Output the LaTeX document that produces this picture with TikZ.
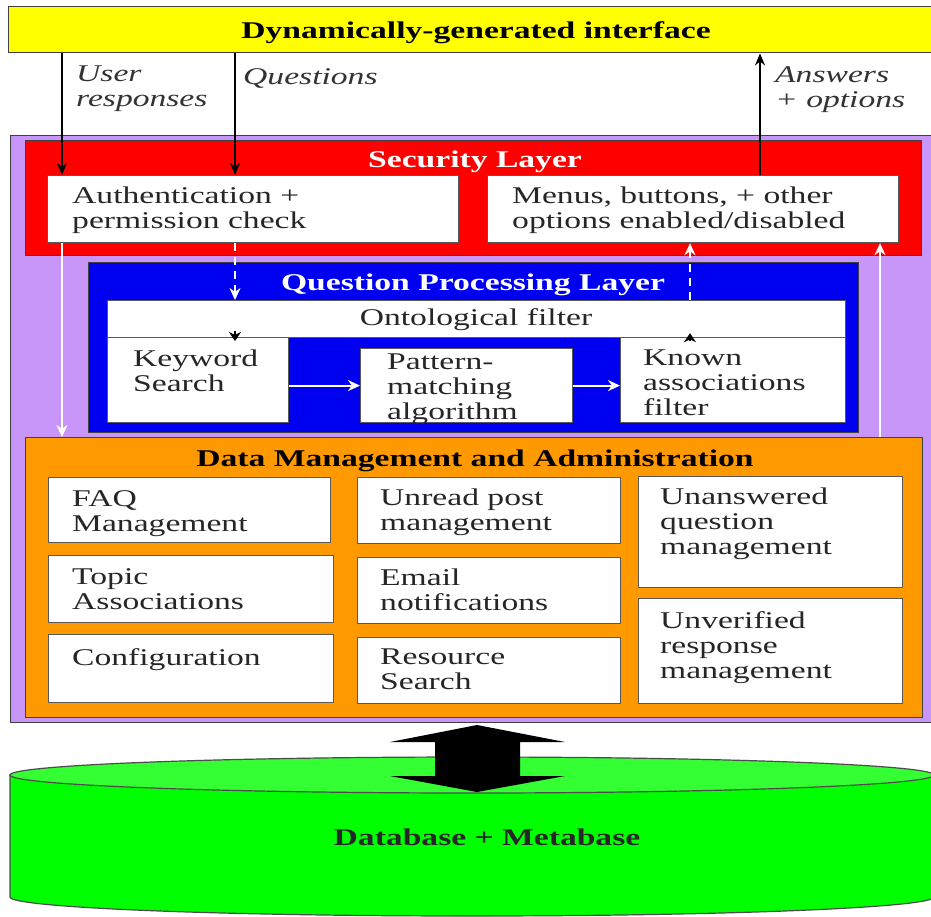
\documentclass[tikz,border=0pt]{standalone}
\usepackage{fontspec}
\setmainfont{Liberation Serif}[FakeStretch=1.4]
\usetikzlibrary{arrows.meta}
\newcommand\fs{\fontsize{24}{25}\selectfont}
\definecolor{ifyellow}{RGB}{255,255,0}
\definecolor{outpurple}{RGB}{200,150,248}
\definecolor{secred}{RGB}{255,0,0}
\definecolor{qblue}{RGB}{0,0,240}
\definecolor{dmorange}{RGB}{255,153,0}
\definecolor{dbgreen}{RGB}{0,255,0}
\definecolor{dbtop}{RGB}{51,255,51}
\tikzset{
  layer/.style={draw=black!75, line width=1.4pt, inner sep=0pt, anchor=north west},
  wbox/.style={draw=black!65, fill=white, line width=1.2pt, inner sep=0pt, anchor=north west},
  txt/.style={inner sep=0pt, anchor=north west, align=left, font=\fs, text=black!85},
  lbl/.style={inner sep=0pt, anchor=north west, align=left, font=\fs\itshape, text=black!80},
  ttl/.style={inner sep=0pt, font=\fs\bfseries},
  blk/.style={line width=2.2pt, -{Stealth[length=12pt,width=10pt]}},
  wht/.style={draw=white, line width=2.2pt, -{Stealth[length=12pt,width=11pt]}},
  whtd/.style={wht, dash pattern=on 8pt off 6pt}
}
\newcommand\mybox[6]{\node[#6, minimum width={#4pt-#2pt}, minimum height={#5pt-#3pt}] (#1) at (#2,#3) {};}
\begin{document}
\begin{tikzpicture}[x=1pt,y=-1pt]
\useasboundingbox (0,0) rectangle (931,916);
\fill[white] (0,0) rectangle (931,916);
% top interface
\mybox{iface}{8}{6}{945}{52}{layer, fill=ifyellow}
\node[ttl] (ifaceT) at (476,33) {Dynamically-generated interface};
% outer purple
\mybox{outer}{10}{135}{945}{722}{layer, fill=outpurple}
% security layer
\mybox{sec}{25}{140}{921}{255}{layer, fill=secred}
\node[ttl, text=white] (secT) at (475,162) {Security Layer};
\mybox{auth}{47}{175}{458}{242}{wbox}
\mybox{menus}{487}{175}{898}{242}{wbox}
\node[txt] (authT) at (72,187) {Authentication +\\permission check};
\node[txt] (menusT) at (512,187) {Menus, buttons, + other\\options enabled/disabled};
% question processing layer
\mybox{qpl}{88}{262}{858}{432}{layer, fill=qblue}
\node[ttl, text=white] (qplT) at (473,285) {Question Processing Layer};
\mybox{onto}{107}{300}{845}{337}{wbox}
\node[inner sep=0pt, font=\fs, text=black!85] (ontoT) at (476,320) {Ontological filter};
\mybox{kw}{107}{337}{288}{422}{wbox}
\mybox{pm}{360}{348}{572}{422}{wbox}
\mybox{ka}{620}{337}{845}{422}{wbox}
\node[txt] (kwT) at (133,350) {Keyword\\Search};
\node[txt] (pmT) at (387,354) {Pattern-\\matching\\algorithm};
\node[txt] (kaT) at (643,350) {Known\\associations\\filter};
% data management
\mybox{dm}{25}{437}{922}{717}{layer, fill=dmorange}
\node[ttl, text=black] (dmT) at (475,461) {Data Management and Administration};
\mybox{faq}{48}{477}{330}{542}{wbox}
\mybox{topic}{48}{555}{333}{622}{wbox}
\mybox{conf}{48}{634}{333}{702}{wbox}
\mybox{unread}{357}{477}{620}{543}{wbox}
\mybox{email}{357}{557}{620}{623}{wbox}
\mybox{res}{357}{637}{620}{703}{wbox}
\mybox{unans}{638}{476}{902}{587}{wbox}
\mybox{unver}{638}{598}{902}{703}{wbox}
\node[txt] (faqT) at (72,490) {FAQ\\Management};
\node[txt] (topicT) at (72,568) {Topic\\Associations};
\node[txt] (confT) at (72,648) {Configuration};
\node[txt] (unreadT) at (380,489) {Unread post\\management};
\node[txt] (emailT) at (380,569) {Email\\notifications};
\node[txt] (resT) at (380,649) {Resource\\Search};
\node[txt] (unansT) at (660,488) {Unanswered\\question\\management};
\node[txt] (unverT) at (660,611) {Unverified\\response\\management};
% database cylinder
\path[fill=dbgreen, draw=black!70, line width=1.2pt] (10,775) -- (10,897)
  arc[start angle=180, end angle=360, x radius=462pt, y radius=19pt] -- (934,775) -- cycle;
\fill[dbtop, draw=black!70, line width=1.2pt] (472,775) ellipse [x radius=462pt, y radius=18pt];
\node[ttl, text=black!85] (dbT) at (487,837) {Database + Metabase};
% big double arrow
\fill[black] (477,725) -- (565,742) -- (520,742) -- (520,776) -- (565,776) -- (477,792)
  -- (390,776) -- (435,776) -- (435,742) -- (390,742) -- cycle;
% labels
\node[lbl] (urL) at (76,66) {User\\responses};
\node[lbl] (qL) at (243,68) {Questions};
\node[lbl] (anL) at (775,66) {Answers\\+ options};
% x positions
\coordinate (xa) at (62,0);
\coordinate (xb) at (235,0);
\coordinate (xc) at (760,0);
\coordinate (xd) at (690,0);
\coordinate (xe) at (880,0);
% black connectors
\draw[blk] (iface.south -| xa) -- (auth.north -| xa);
\draw[blk] (iface.south -| xb) -- (auth.north -| xb);
\draw[blk] (menus.north -| xc) -- (iface.south -| xc);
% white connectors
\draw[whtd] (auth.south -| xb) -- (onto.north -| xb);
\draw[whtd] (onto.north -| xd) -- (menus.south -| xd);
\draw[wht] (auth.south -| xa) -- (dm.north -| xa);
\draw[wht] (dm.north -| xe) -- (menus.south -| xe);
\draw[wht] (kw.east |- pm.center) -- (pm.west);
\draw[wht] (pm.east) -- (ka.west |- pm.center);
% small black arrows at ontological filter
\draw[line width=1.4pt, -{Stealth[length=9pt,width=12pt]}] ([yshift=7pt]onto.south -| xb) -- ([yshift=-4pt]kw.north -| xb);
\draw[line width=1.4pt, -{Stealth[length=9pt,width=12pt]}] ([yshift=-4pt]ka.north -| xd) -- ([yshift=5pt]onto.south -| xd);
\end{tikzpicture}
\end{document}
